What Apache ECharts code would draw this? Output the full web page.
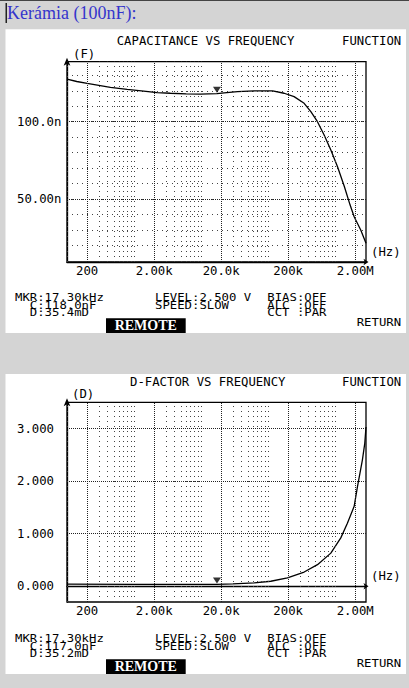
<!DOCTYPE html>
<html><head><meta charset="utf-8">
<script src="https://cdn.jsdelivr.net/npm/echarts@6/dist/echarts.min.js"></script>
<style>html,body{margin:0;padding:0;background:#d4d4d4;}#c{width:409px;height:688px;}</style>
</head><body><div id="c"></div>
<script>
// ---- data ----
const freqC = [100, 140, 200, 445, 789, 1395, 2210, 3490, 6000, 9770, 17300, 22200, 35100, 62300, 117000, 174000, 245000, 346000, 436000, 547000, 688000, 866000, 1090000, 1370000, 1680000, 1930000, 2420000, 2900000];
const capNF = [127.6, 126.0, 124.8, 122.2, 120.9, 119.8, 118.8, 118.4, 118.0, 117.9, 118.1, 118.6, 119.4, 120.0, 120.0, 118.4, 116.2, 111.9, 106.5, 100.0, 91.4, 81.7, 70.9, 58.4, 46.1, 38.6, 30.0, 21.4];
const freqD = [100, 1000, 10000, 17300, 30000, 62300, 110000, 195000, 346000, 547000, 866000, 1220000, 1530000, 1930000, 2160000, 2560000, 2780000, 2900000];
const dFactor = [0.040, 0.035, 0.034, 0.0352, 0.045, 0.064, 0.095, 0.16, 0.27, 0.41, 0.63, 0.92, 1.20, 1.52, 1.89, 2.40, 2.72, 3.03];
const markerFreq = 17300;
const markerC = 118.0;
const markerD = 0.0352;
const xTickValues = [200, 2000, 20000, 200000, 2000000];
const xTickLabels = ['200', '2.00k', '20.0k', '200k', '2.00M'];
const xMinorGrid = [100, 300, 400, 500, 600, 700, 800, 900, 1000, 3000, 4000, 5000, 6000, 7000, 8000, 9000, 10000, 30000, 40000, 50000, 60000, 70000, 80000, 90000, 100000, 300000, 400000, 500000, 600000, 700000, 800000, 900000, 1000000];
const cTickValues = [50, 100];
const cTickLabels = ['50.00n', '100.0n'];
const dTickValues = [0, 1, 2, 3];
const dTickLabels = ['0.000', '1.000', '2.000', '3.000'];

// ---- chart ----
const chart = echarts.init(document.getElementById('c'), null, {renderer: 'svg', width: 409, height: 688});
const MONO = '"DejaVu Sans Mono", monospace';
const FS = 12.3;
function pick(vals, labs, v) {
  for (let i = 0; i < vals.length; i++) {
    if (Math.abs(v - vals[i]) <= 1e-6 * Math.max(1, Math.abs(vals[i]))) return labs[i];
  }
  return '';
}
function gridMark(extra) {
  const d = xTickValues.map(f => ({xAxis: f, lineStyle: {type: [1, 1], color: '#222', width: 1}}))
    .concat(xMinorGrid.map(f => ({xAxis: f, lineStyle: {type: [1, 4], color: '#444', width: 1}})))
    .concat(extra || []);
  return {silent: true, symbol: ['none', 'none'], label: {show: false}, animation: false, emphasis: {disabled: true}, data: d};
}
function xAxisOf(i) {
  return {
    type: 'log', logBase: 10, gridIndex: i, min: 100, max: 2900000,
    name: '(Hz)', nameLocation: 'end', nameGap: 5,
    nameTextStyle: {fontFamily: MONO, fontSize: FS, color: '#000', align: 'left', verticalAlign: 'bottom', lineHeight: FS, padding: [0, 0, 4, 0]},
    axisLine: {show: true, lineStyle: {color: '#000', width: 1.3}, symbol: ['none', 'arrow'], symbolSize: [5, 5], symbolOffset: [0, 2.5]},
    axisTick: {show: false}, splitLine: {show: false}, minorTick: {show: false}, minorSplitLine: {show: false},
    axisLabel: {customValues: xTickValues, formatter: v => pick(xTickValues, xTickLabels, v), margin: 3, fontFamily: MONO, fontSize: FS, color: '#000'}
  };
}
function txt(s, x, y, extra) {
  return Object.assign({type: 'text', silent: true, scaleY: 0.85, originX: x, originY: y,
    style: {text: s, x: x, y: y, fill: '#000', font: FS + 'px ' + MONO, align: 'left', verticalAlign: 'middle'}}, extra || {});
}
function panelTexts(dy, title, c, d) {
  return [
    {type: 'rect', silent: true, z: -100, shape: {x: 5.5, y: (dy ? 374 : 29.3), width: 400.5, height: (dy ? 300 : 303.7)}, style: {fill: '#ffffff'}},
    txt(title, 116.7 + (dy ? 13.3 : 0), 41.3 + dy, {scaleY: 1}),
    txt('FUNCTION', 342, 41.3 + dy, {scaleY: 1}),
    txt('MKR:17.30kHz', 15, 297.6 + dy),
    txt(c, 29.8, 305.2 + dy),
    txt(d, 29.8, 312.8 + dy),
    txt('LEVEL:2.500 V', 155, 297.6 + dy),
    txt('SPEED:SLOW', 155, 305.2 + dy),
    txt('BIAS:OFF', 267.3, 297.6 + dy),
    txt('ALC :OFF', 267.3, 305.2 + dy),
    txt('CCT :PAR', 267.3, 312.8 + dy),
    txt('RETURN', 356.7, 322.5 + dy),
    {type: 'rect', silent: true, shape: {x: 106, y: 318.3 + dy, width: 79.7, height: 14.7}, style: {fill: '#000'}},
    {type: 'text', silent: true, style: {text: 'REMOTE', x: 145.8, y: 325.8 + dy, fill: '#fff', font: 'bold 14px "Liberation Serif", serif', align: 'center', verticalAlign: 'middle'}}
  ];
}
const D2 = 341;
const option = {
  animation: false,
  backgroundColor: '#d4d4d4',
  title: [{text: 'Kerámia (100nF):', left: 7, top: 4, padding: 0, textStyle: {fontFamily: '"Liberation Serif", serif', fontSize: 18, fontWeight: 'normal', color: '#3434cc'}}],
  grid: [
    {left: 67, top: 61.7, width: 299, height: 200.3, show: true, borderColor: '#000', borderWidth: 1.3, containLabel: false},
    {left: 67, top: 402.3, width: 299, height: 199.7, show: true, borderColor: '#000', borderWidth: 1.3, containLabel: false}
  ],
  xAxis: [xAxisOf(0), xAxisOf(1)],
  yAxis: [
    {type: 'value', gridIndex: 0, min: 9.3, max: 138.8, minInterval: 10, maxInterval: 10,
      name: '(F)', nameLocation: 'end', nameGap: 8,
      nameTextStyle: {fontFamily: MONO, fontSize: FS, color: '#000', align: 'left', verticalAlign: 'middle', padding: [0, 0, 0, 6]},
      axisLine: {show: true, lineStyle: {color: '#000', width: 1.3}, symbol: ['none', 'arrow'], symbolSize: [5, 8], symbolOffset: [0, 4]},
      axisTick: {show: false},
      splitLine: {show: true, showMinLine: false, showMaxLine: false, lineStyle: {type: [1, 4], color: '#444', width: 1}},
      axisLabel: {customValues: cTickValues, formatter: v => pick(cTickValues, cTickLabels, v), align: 'left', margin: 50, fontFamily: MONO, fontSize: FS, color: '#000'}},
    {type: 'value', gridIndex: 1, min: -0.3, max: 3.5, minInterval: 1, maxInterval: 1,
      name: '(D)', nameLocation: 'end', nameGap: 8,
      nameTextStyle: {fontFamily: MONO, fontSize: FS, color: '#000', align: 'left', verticalAlign: 'middle', padding: [0, 0, 0, 5]},
      axisLine: {show: true, lineStyle: {color: '#000', width: 1.3}, symbol: ['none', 'arrow'], symbolSize: [5, 8], symbolOffset: [0, 4]},
      axisTick: {show: false},
      splitLine: {show: true, showMinLine: false, showMaxLine: false, lineStyle: {type: [1, 1], color: '#222', width: 1}},
      axisLabel: {customValues: dTickValues, formatter: v => pick(dTickValues, dTickLabels, v), align: 'left', margin: 50, fontFamily: MONO, fontSize: FS, color: '#000'}}
  ],
  series: [
    {type: 'line', xAxisIndex: 0, yAxisIndex: 0, data: [], z: 1, silent: true,
      markLine: gridMark(cTickValues.map(v => ({yAxis: v, lineStyle: {type: [1, 1], color: '#222', width: 1}})))},
    {type: 'line', xAxisIndex: 0, yAxisIndex: 0, z: 3, silent: true, showSymbol: false, symbol: 'none',
      data: freqC.map((f, i) => [f, capNF[i]]), lineStyle: {color: '#000', width: 1.3}},
    {type: 'scatter', xAxisIndex: 0, yAxisIndex: 0, z: 4, silent: true, symbol: 'triangle', symbolRotate: 180, symbolSize: [8, 6], symbolOffset: [0, -4],
      itemStyle: {color: '#000'}, data: [[markerFreq, markerC]]},
    {type: 'line', xAxisIndex: 1, yAxisIndex: 1, data: [], z: 1, silent: true, markLine: gridMark()},
    {type: 'line', xAxisIndex: 1, yAxisIndex: 1, z: 3, silent: true, showSymbol: false, symbol: 'none',
      data: freqD.map((f, i) => [f, dFactor[i]]), lineStyle: {color: '#000', width: 1.3}},
    {type: 'scatter', xAxisIndex: 1, yAxisIndex: 1, z: 4, silent: true, symbol: 'triangle', symbolRotate: 180, symbolSize: [8, 6], symbolOffset: [0, -4],
      itemStyle: {color: '#000'}, data: [[markerFreq, markerD]]}
  ],
  graphic: [
    {type: 'rect', silent: true, shape: {x: 0, y: 0, width: 409, height: 1}, style: {fill: '#444'}},
    {type: 'rect', silent: true, shape: {x: 5.5, y: 3, width: 1.5, height: 20}, style: {fill: '#222'}}
  ].concat(panelTexts(0, 'CAPACITANCE VS FREQUENCY', 'C:118.0nF', 'D:35.4mD'))
   .concat(panelTexts(D2, 'D-FACTOR VS FREQUENCY', 'C:117.0nF', 'D:35.2mD'))
};
chart.setOption(option);
</script></body></html>
